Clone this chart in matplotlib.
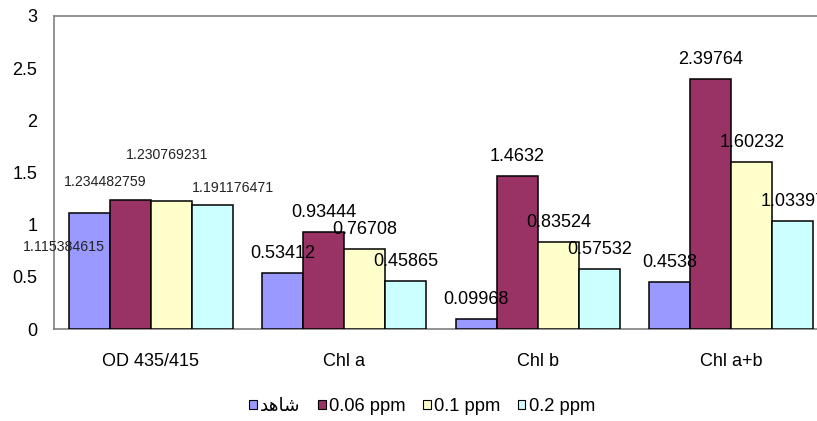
import matplotlib
matplotlib.use("Agg")
import matplotlib.pyplot as plt
import numpy as np

plt.rcParams['font.family'] = ['Liberation Sans', 'DejaVu Sans']

# data
categories = ['OD 435/415', 'Chl a', 'Chl b', 'Chl a+b']
# matplotlib does no Arabic shaping, so the word is given in its joined forms (visual order)
series_names = ['\uFEAA\uFEEB\uFE8E\uFEB7', '0.06 ppm', '0.1 ppm', '0.2 ppm']
control = [1.115384615, 0.53412, 0.09968, 0.4538]
ppm_006 = [1.234482759, 0.93444, 1.4632, 2.39764]
ppm_01 = [1.230769231, 0.76708, 0.83524, 1.60232]
ppm_02 = [1.191176471, 0.45865, 0.57532, 1.03397]
yticks = [0, 0.5, 1, 1.5, 2, 2.5, 3]

series = [control, ppm_006, ppm_01, ppm_02]
colors = ['#9999FF', '#993366', '#FFFFCC', '#CCFFFF']

# hand-placed labels of the first group (offsets in points from bar top centre)
first_offsets = [(-18, -25), (-18, 13), (-3, 33), (15, 12)]

f = plt.figure(figsize=(8.17, 4.21), dpi=100)
f.patch.set_facecolor('white')
ax = f.add_axes([54/817, 92/421, 774/817, 313/421])

x = np.arange(len(categories))
w = 0.212
for i, vals in enumerate(series):
    pos = x + (i - 1.5) * w
    bars = ax.bar(pos, vals, w, color=colors[i], edgecolor='black',
                  linewidth=1.1, label=series_names[i], zorder=3)
    for j, b in enumerate(bars):
        cx = b.get_x() + b.get_width() / 2
        top = b.get_height()
        if j == 0:
            dx, dy = first_offsets[i]
            ax.annotate(str(vals[j]), (cx, top), xytext=(dx, dy),
                        textcoords='offset points', ha='center', va='center',
                        fontsize=10.2, color='#222222', zorder=5,
                        annotation_clip=False)
        else:
            ax.annotate(str(vals[j]), (cx, top), xytext=(0, 14),
                        textcoords='offset points', ha='center', va='center',
                        fontsize=13, color='black', zorder=5,
                        annotation_clip=False)

ax.set_xlim(-0.5, 3.5)
ax.set_ylim(0, 3)
ax.set_yticks(yticks)
ax.set_yticklabels([('%g' % t) for t in yticks])
ax.set_xticks(x)
ax.set_xticklabels(categories)
ax.tick_params(axis='y', length=0, pad=12, labelsize=13)
ax.tick_params(axis='x', length=0, pad=17, labelsize=13)

for s in ['left', 'top', 'bottom']:
    ax.spines[s].set_color('#808080')
    ax.spines[s].set_linewidth(1.2)
ax.spines['right'].set_visible(False)

leg = f.legend(loc='center', bbox_to_anchor=(0.5165, 0.034), ncol=4,
               frameon=False, fontsize=13.2, handlelength=0.42,
               handleheight=0.42, handletextpad=0.18, columnspacing=0.95,
               borderpad=0)
for h in leg.legend_handles:
    h.set_linewidth(0.8)

f.savefig('out.png', dpi=100)
